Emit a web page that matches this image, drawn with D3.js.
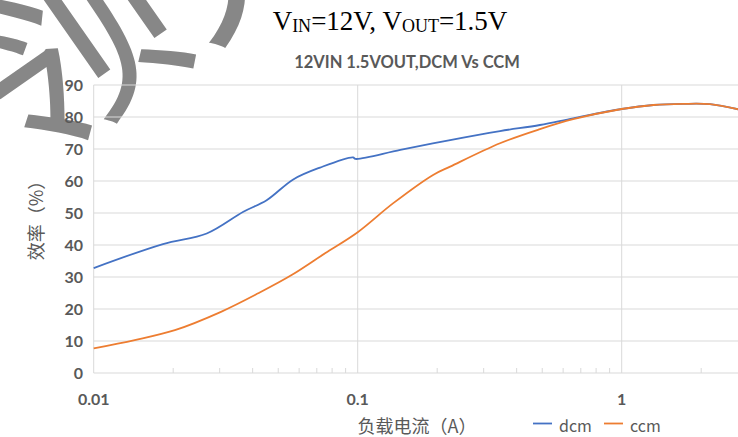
<!DOCTYPE html>
<html>
<head>
<meta charset="utf-8">
<script src="https://cdn.jsdelivr.net/npm/d3@7/dist/d3.min.js"></script>
<style>
  html, body { margin: 0; padding: 0; background: #fff; }
  svg { display: block; }
  .tick-label { font-family: Lato, "Open Sans", sans-serif; font-weight: bold; font-size: 16px; fill: #595959; }
  .axis-title { font-family: "Noto Sans CJK SC", sans-serif; font-size: 18px; fill: #595959; }
  .legend-text { font-family: "Noto Sans CJK SC", sans-serif; font-size: 16px; fill: #595959; }
</style>
</head>
<body>
<svg id="chart" width="738" height="437"></svg>
<script>
/* load current (A) vs efficiency (%) */
var DCM_CURRENT = [0.01, 0.0183, 0.0268, 0.0369, 0.0452, 0.057, 0.072, 0.096, 0.098, 0.145, 0.224, 0.346, 0.49, 0.655, 1.0, 1.32, 1.71, 2.16, 2.8];
var DCM_EFF     = [32.8, 40.3, 43.6, 50.4, 54.0, 60.5, 64.2, 67.4, 66.9, 69.7, 72.8, 75.6, 77.5, 79.6, 82.5, 83.75, 84.1, 84.0, 82.3];

var CCM_CURRENT = [0.01, 0.0143, 0.0203, 0.0305, 0.042, 0.0562, 0.0752, 0.1, 0.136, 0.193, 0.224, 0.346, 0.49, 0.655, 1.0, 1.32, 1.71, 2.16, 2.8];
var CCM_EFF     = [7.7, 10.3, 13.4, 19.2, 24.9, 30.6, 37.4, 44.0, 53.0, 61.9, 64.5, 71.8, 76.2, 79.3, 82.5, 83.75, 84.1, 84.0, 82.3];

var SERIES_NAMES = ["dcm", "ccm"];
var SERIES_COLORS = ["#4472C4", "#ED7D31"];

var Y_TICKS = [0, 10, 20, 30, 40, 50, 60, 70, 80, 90];
var X_MAJOR = [0.01, 0.1, 1, 10];
var X_LABELS = ["0.01", "0.1", "1"];

var WIDTH = 738;
var svg = d3.select("#chart");

var x = d3.scaleLog().domain([0.01, 10]).range([93.7, 885.7]);
var y = d3.scaleLinear().domain([0, 90]).range([373, 85]);

/* watermark, partly outside the picture like the original */
svg.append("text")
    .attr("transform", "translate(22,168) rotate(-35)")
    .style("font-family", "Noto Sans CJK SC")
    .style("font-size", "215px")
    .style("fill", "#878787")
    .text("领先");

var grid = svg.append("g");

/* horizontal grid */
grid.selectAll(".hgrid").data(Y_TICKS).enter()
    .append("line")
    .attr("x1", x(0.01)).attr("x2", WIDTH)
    .attr("y1", function(d){ return y(d); })
    .attr("y2", function(d){ return y(d); })
    .attr("stroke", "#d9d9d9").attr("stroke-width", 1);

/* vertical grid at decades */
grid.selectAll(".vgrid").data(X_MAJOR.filter(function(d){ return x(d) < WIDTH; })).enter()
    .append("line")
    .attr("x1", function(d){ return x(d); })
    .attr("x2", function(d){ return x(d); })
    .attr("y1", y(90)).attr("y2", y(0))
    .attr("stroke", "#d9d9d9").attr("stroke-width", 1);

/* minor ticks, inside */
var minor = [];
[0.01, 0.1, 1].forEach(function(dec){
    for (var k = 2; k <= 9; k++) minor.push(dec * k);
});
grid.selectAll(".minor").data(minor.filter(function(d){ return x(d) < WIDTH; })).enter()
    .append("line")
    .attr("x1", function(d){ return x(d); })
    .attr("x2", function(d){ return x(d); })
    .attr("y1", y(0) - 5).attr("y2", y(0))
    .attr("stroke", "#d9d9d9").attr("stroke-width", 1);

/* y labels */
svg.selectAll(".ylab").data(Y_TICKS).enter()
    .append("text")
    .attr("class", "tick-label")
    .attr("x", 83)
    .attr("y", function(d){ return y(d); })
    .attr("dy", "0.36em")
    .attr("text-anchor", "end")
    .text(function(d){ return d; });

/* x labels */
svg.selectAll(".xlab").data(X_LABELS).enter()
    .append("text")
    .attr("class", "tick-label")
    .attr("x", function(d, i){ return x(X_MAJOR[i]); })
    .attr("y", 405)
    .attr("text-anchor", "middle")
    .text(function(d){ return d; });

/* series lines */
var line = d3.line()
    .curve(d3.curveCatmullRom.alpha(0.5))
    .x(function(d){ return x(d[0]); })
    .y(function(d){ return y(d[1]); });

var seriesData = [
    d3.zip(DCM_CURRENT, DCM_EFF),
    d3.zip(CCM_CURRENT, CCM_EFF)
];

seriesData.forEach(function(pts, i){
    svg.append("path")
        .attr("d", line(pts))
        .attr("fill", "none")
        .attr("stroke", SERIES_COLORS[i])
        .attr("stroke-width", 1.8)
        .attr("stroke-linejoin", "round");
});

/* titles */
var title = svg.append("text")
    .attr("x", 390).attr("y", 29.5)
    .attr("text-anchor", "middle")
    .style("font-family", "Liberation Serif, serif")
    .style("font-size", "27px")
    .style("fill", "#000");
title.append("tspan").text("V");
title.append("tspan").style("font-size", "18px").attr("dy", 2).text("IN");
title.append("tspan").attr("dy", -2).text("=12V, V");
title.append("tspan").style("font-size", "18px").attr("dy", 2).text("OUT");
title.append("tspan").attr("dy", -2).text("=1.5V");

svg.append("text")
    .attr("x", 407).attr("y", 68)
    .attr("text-anchor", "middle")
    .style("font-family", "Lato, sans-serif")
    .style("font-weight", "bold")
    .style("font-size", "16.5px")
    .style("fill", "#595959")
    .text("12VIN 1.5VOUT,DCM Vs CCM");

/* axis titles */
svg.append("text")
    .attr("class", "axis-title")
    .attr("transform", "translate(43,216) rotate(-90)")
    .attr("text-anchor", "middle")
    .text("效率（%）");

svg.append("text")
    .attr("class", "axis-title")
    .attr("x", 417).attr("y", 433)
    .attr("text-anchor", "middle")
    .text("负载电流（A）");

/* legend */
var legendX = [533, 604];
SERIES_NAMES.forEach(function(name, i){
    svg.append("line")
        .attr("x1", legendX[i]).attr("x2", legendX[i] + 19)
        .attr("y1", 423.5).attr("y2", 423.5)
        .attr("stroke", SERIES_COLORS[i]).attr("stroke-width", 1.8);
    svg.append("text")
        .attr("class", "legend-text")
        .attr("x", legendX[i] + 26).attr("y", 432)
        .text(name);
});
</script>
</body>
</html>
